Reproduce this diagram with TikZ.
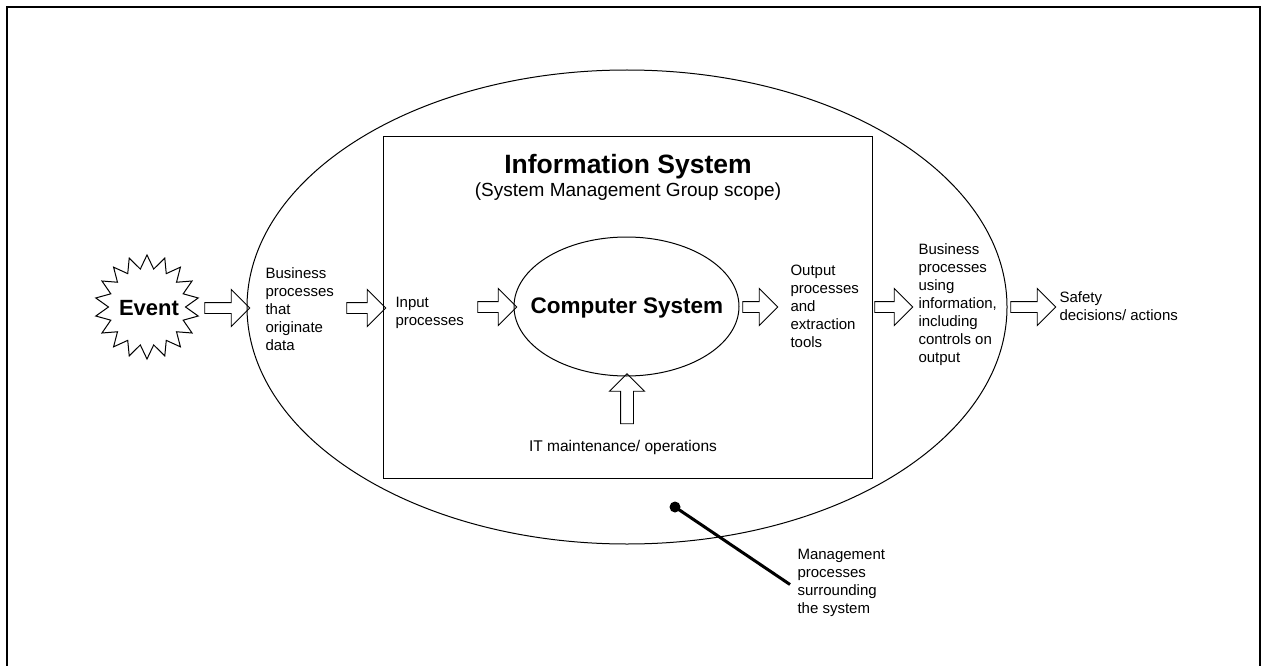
\documentclass[tikz,border=0pt]{standalone}
\usepackage{fontspec}
\setmainfont{Liberation Sans}
\usetikzlibrary{shapes.geometric,shapes.arrows}
\begin{document}
\begin{tikzpicture}[x=1pt,y=-1pt,line width=1pt,
  lbl/.style={align=left,anchor=west,font=\fontsize{15}{18}\selectfont,inner sep=0pt},
  blockarrow/.style={draw,single arrow,single arrow head extend=13pt,inner xsep=0pt,inner ysep=5pt,line width=0.9pt},
  oval/.style={draw,ellipse,inner sep=0pt},
  boxframe/.style={draw,rectangle,inner sep=0pt}
]
\useasboundingbox (0,0) rectangle (1266,666);
\draw[line width=2pt] (7,7) rectangle (1260,672);

% main shapes
\node[oval,minimum width=760pt,minimum height=474pt] (outer) at (627,307) {};
\node[boxframe,minimum width=489pt,minimum height=341pt] (infosys) at (627.5,307.5) {};
\node[oval,minimum width=225pt,minimum height=139pt] (comp) at (626.5,306.5) {};
\node[font=\bfseries\fontsize{22.5}{26}\selectfont,anchor=base] (comptext) at (627,313) {Computer System};

% event
\node[draw,star,star points=18,star point ratio=1.35,minimum size=104pt,inner sep=0pt] (event) at (147,307) {};
\node[font=\bfseries\fontsize{22}{26}\selectfont,anchor=base] (eventtext) at (149,315) {Event};

% titles
\node[font=\bfseries\fontsize{26.5}{30}\selectfont,anchor=base] (title) at (628,173) {Information System};
\node[font=\fontsize{19}{22}\selectfont,anchor=base] (subtitle) at (628,196) {(System Management Group scope)};

% labels
\node[lbl] (bpo) at (265,309) {Business\\processes\\that\\originate\\data};
\node[lbl] (inp) at (395,313) {Input\\processes};
\node[lbl] (outp) at (790,306) {Output\\processes\\and\\extraction\\tools};
\node[lbl] (bpu) at (918,305) {Business\\processes\\using\\information,\\including\\controls on\\output};
\node[lbl] (safety) at (1059,306) {Safety\\decisions/ actions};
\node[lbl] (mgmt) at (797,582.5) {Management\\processes\\surrounding\\the system};
\node[font=\fontsize{15.5}{18}\selectfont,anchor=base] (itops) at (623,451) {IT maintenance/ operations};

% block arrows
\node[blockarrow,minimum height=45pt] (a1) at (224.5,308) {};
\node[blockarrow,minimum height=39pt] (a2) at (363.5,308) {};
\node[blockarrow,minimum height=39pt] (a3) at (494.5,307) {};
\node[blockarrow,minimum height=35pt] (a4) at (757.5,307) {};
\node[blockarrow,minimum height=38pt] (a5) at (891,307) {};
\node[blockarrow,minimum height=45pt] (a6) at (1030.5,307) {};
\node[blockarrow,minimum height=50pt,shape border rotate=90,inner xsep=6pt,inner ysep=0pt,single arrow head extend=11pt] (aup) at (627,402) {};

% pointer to management label
\coordinate (mdot) at (675,507);
\fill (mdot) circle (5.5pt);
\draw[line width=3pt] (mdot) -- ([xshift=-7pt,yshift=-2pt]mgmt.west);
\end{tikzpicture}
\end{document}
